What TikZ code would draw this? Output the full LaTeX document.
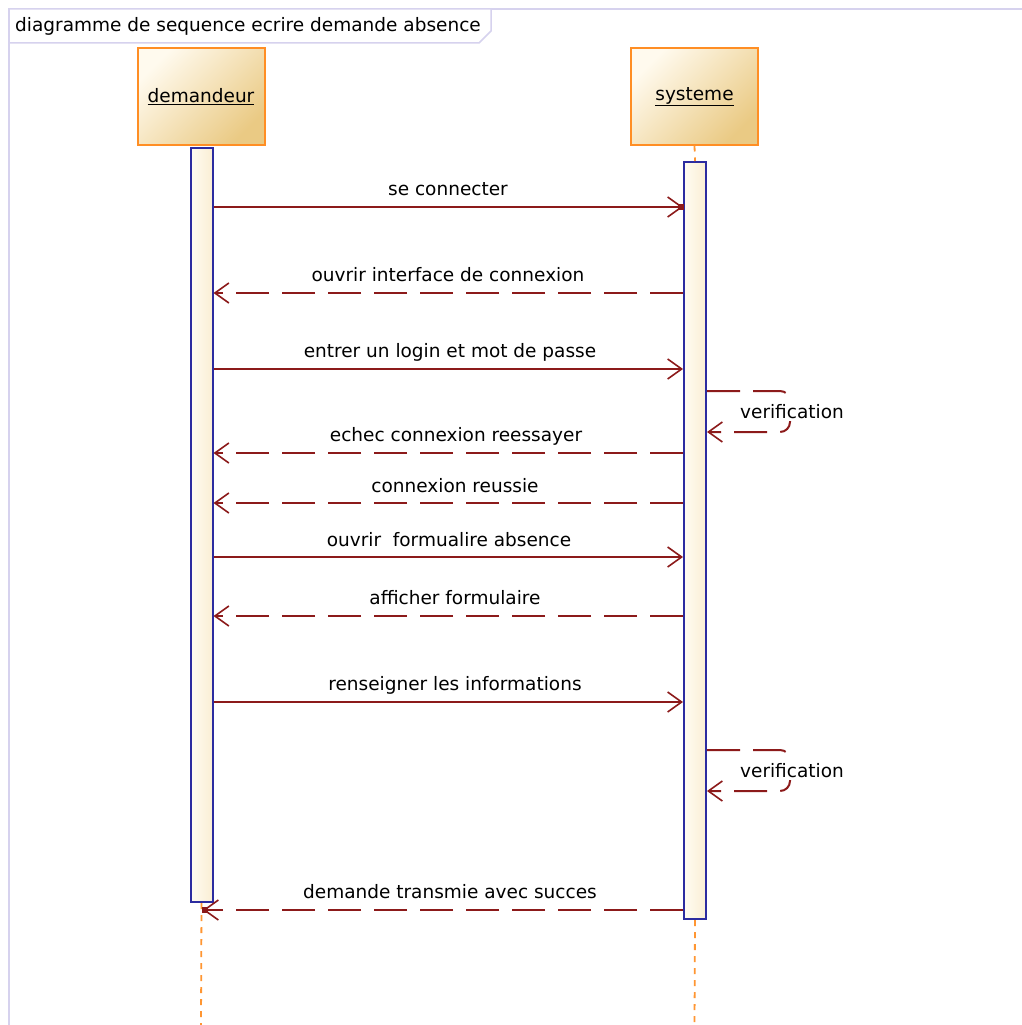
\documentclass[tikz,border=0pt]{standalone}
\usepackage{fontspec}
\setmainfont{DejaVu Sans}
\usetikzlibrary{arrows.meta}

\definecolor{framecol}{RGB}{214,210,238}
\definecolor{actorline}{RGB}{255,142,36}
\definecolor{actorlight}{RGB}{255,250,238}
\definecolor{actordark}{RGB}{234,202,132}
\definecolor{barblue}{RGB}{44,44,160}
\definecolor{barlight}{RGB}{255,252,242}
\definecolor{bardark}{RGB}{250,238,212}
\definecolor{msgred}{RGB}{140,26,26}
\definecolor{lifeorange}{RGB}{255,150,50}

\tikzset{
  actor/.style={draw=actorline, line width=2pt, minimum width=127pt, minimum height=96pt,
    inner sep=0pt, shading=axis, top color=actorlight, bottom color=actordark, shading angle=45,
    font=\fontsize{18.5}{22}\selectfont},
  actbar/.style={draw=barblue, line width=2pt, left color=barlight, right color=bardark,
    minimum width=22pt, inner sep=0pt},
  msg/.style={msgred, line width=2pt, -{Straight Barb[length=14pt,width=20pt,line width=1.6pt]}},
  reply/.style={msg, dash pattern=on 33pt off 13pt},
  lbl/.style={font=\fontsize{18.5}{22}\selectfont, text=black, inner sep=1pt},
  selflbl/.style={lbl, fill=white, inner sep=2pt},
  life/.style={lifeorange, line width=1.8pt, dash pattern=on 6pt off 6pt},
  tipdot/.style={fill=msgred, minimum size=6pt, inner sep=0pt}
}

\begin{document}
\begin{tikzpicture}[x=1pt,y=-1pt]
  % canvas
  \useasboundingbox (0,0) rectangle (1022,1025);
  \fill[white] (0,0) rectangle (1022,1025);

  % diagram frame and its title tab
  \draw[framecol, line width=2pt] (1023,9) -- (9,9) -- (9,1026);
  \draw[framecol, line width=1.5pt, fill=white] (9,9) -- (491,9) -- (491,31) -- (479,43) -- (9,43) -- cycle;
  \node[lbl, anchor=west] (title) at (14,26) {diagramme de sequence ecrire demande absence};

  % participants
  \node[actor] (dem) at (201,96.5) {\underline{demandeur}};
  \node[actor] (sys) at (694.5,96.5) {\underline{systeme}};

  % activation bars
  \node[actbar, minimum height=754pt] (bdem) at (201.5,525) {};
  \node[actbar, minimum height=757pt] (bsys) at (695,540.5) {};

  % lifelines
  \coordinate (bottom) at (0,1025);
  \draw[life] (sys.south) -- (bsys.north);
  \draw[life] (bdem.south) -- (dem |- bottom);
  \draw[life] (bsys.south) -- (sys |- bottom);

  % message rows
  \coordinate (m1) at (0,207);
  \coordinate (m2) at (0,293);
  \coordinate (m3) at (0,369);
  \coordinate (v1a) at (0,391);
  \coordinate (v1b) at (0,432);
  \coordinate (m4) at (0,453);
  \coordinate (m5) at (0,503);
  \coordinate (m6) at (0,557);
  \coordinate (m7) at (0,616);
  \coordinate (m8) at (0,702);
  \coordinate (v2a) at (0,750);
  \coordinate (v2b) at (0,791);
  \coordinate (m9) at (0,910);

  % messages
  \draw[msg] (bdem.east |- m1) -- (bsys.west |- m1);
  \node[tipdot] (tip1) at ([xshift=-2pt]bsys.west |- m1) {};
  \node[lbl] (l1) at (448,189) {se connecter};

  \draw[reply] (bsys.west |- m2) -- (bdem.east |- m2);
  \node[lbl] (l2) at (448,275) {ouvrir interface de connexion};

  \draw[msg] (bdem.east |- m3) -- (bsys.west |- m3);
  \node[lbl] (l3) at (450,352) {entrer un login et mot de passe};

  \draw[reply, rounded corners=10pt] (bsys.east |- v1a) -- ([xshift=83pt]bsys.east |- v1a)
    -- ([xshift=83pt]bsys.east |- v1b) -- (bsys.east |- v1b);
  \node[selflbl] (v1) at (792,412) {verification};

  \draw[reply] (bsys.west |- m4) -- (bdem.east |- m4);
  \node[lbl] (l4) at (456,436) {echec connexion reessayer};

  \draw[reply] (bsys.west |- m5) -- (bdem.east |- m5);
  \node[lbl] (l5) at (455,486) {connexion reussie};

  \draw[msg] (bdem.east |- m6) -- (bsys.west |- m6);
  \node[lbl] (l6) at (449,540) {ouvrir\ \ formualire absence};

  \draw[reply] (bsys.west |- m7) -- (bdem.east |- m7);
  \node[lbl] (l7) at (455,598) {afficher formulaire};

  \draw[msg] (bdem.east |- m8) -- (bsys.west |- m8);
  \node[lbl] (l8) at (455,685) {renseigner les informations};

  \draw[reply, rounded corners=10pt] (bsys.east |- v2a) -- ([xshift=83pt]bsys.east |- v2a)
    -- ([xshift=83pt]bsys.east |- v2b) -- (bsys.east |- v2b);
  \node[selflbl] (v2) at (792,771) {verification};

  \draw[reply] (bsys.west |- m9) -- ([xshift=2pt]dem |- m9);
  \node[tipdot] (tip2) at ([xshift=4pt]dem |- m9) {};
  \node[lbl] (l9) at (450,892) {demande transmie avec succes};
\end{tikzpicture}
\end{document}
